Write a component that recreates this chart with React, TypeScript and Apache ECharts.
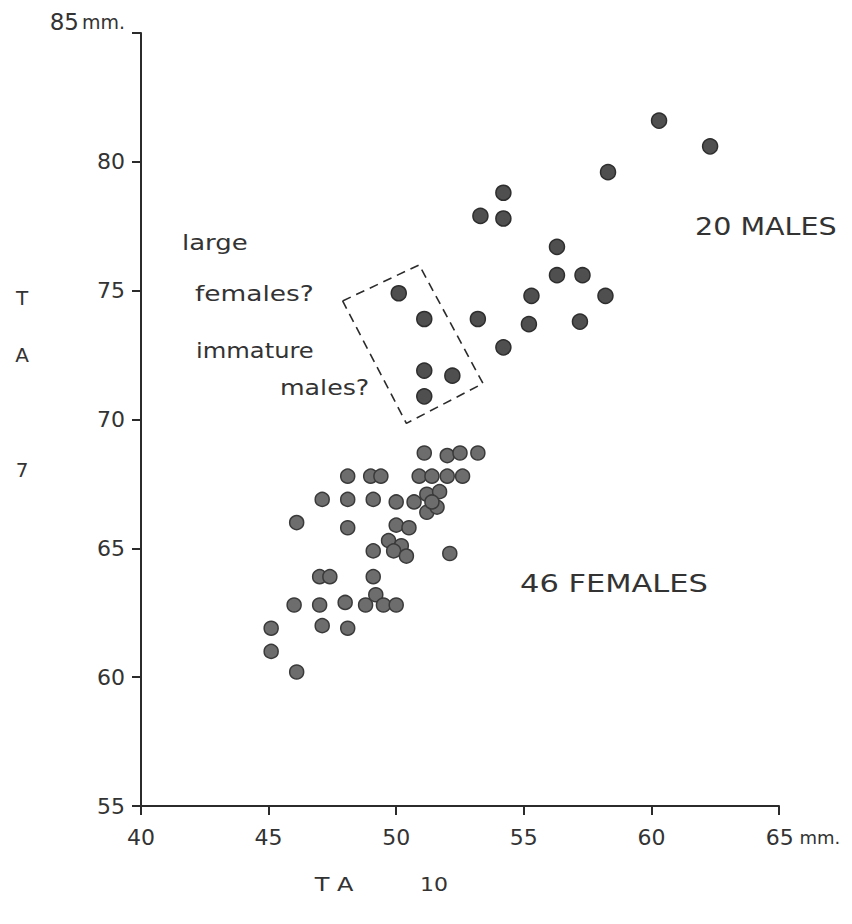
import React, { useEffect, useRef } from "react";
import * as echarts from "echarts";

// X ticks (mm) and Y ticks (mm)
const xTicks = [40, 45, 50, 55, 60, 65];
const yTicks = [55, 60, 65, 70, 75, 80, 85];

// 20 males (upper cluster, incl. the boxed "large females? / immature males?" points)
const maleX = [60.3, 62.3, 58.3, 54.2, 53.3, 54.2, 56.3, 56.3, 57.3, 58.2, 55.3, 57.2, 55.2, 53.2, 54.2, 50.1, 51.1, 51.1, 52.2, 51.1];
const maleY = [81.6, 80.6, 79.6, 78.8, 77.9, 77.8, 76.7, 75.6, 75.6, 74.8, 74.8, 73.8, 73.7, 73.9, 72.8, 74.9, 73.9, 71.9, 71.7, 70.9];

// 46 females
const femaleX = [
  51.1, 52.0, 52.5, 53.2,
  48.1, 49.0, 49.4, 50.9, 51.4, 52.0, 52.6,
  47.1, 48.1, 49.1, 50.0, 50.7, 51.2, 51.7, 51.2, 51.6, 51.4,
  46.1, 48.1, 50.0, 50.5,
  49.1, 49.7, 50.2, 49.9, 50.4, 52.1,
  47.0, 47.4, 49.1,
  46.0, 47.0, 48.0, 48.8, 49.2, 49.5, 50.0,
  45.1, 47.1, 48.1,
  45.1,
  46.1,
];
const femaleY = [
  68.7, 68.6, 68.7, 68.7,
  67.8, 67.8, 67.8, 67.8, 67.8, 67.8, 67.8,
  66.9, 66.9, 66.9, 66.8, 66.8, 67.1, 67.2, 66.4, 66.6, 66.8,
  66.0, 65.8, 65.9, 65.8,
  64.9, 65.3, 65.1, 64.9, 64.7, 64.8,
  63.9, 63.9, 63.9,
  62.8, 62.8, 62.9, 62.8, 63.2, 62.8, 62.8,
  61.9, 62.0, 61.9,
  61.0,
  60.2,
];

// dashed box around the doubtful specimens (corner points in mm)
const boxX = [47.9, 50.9, 53.4, 50.4, 47.9];
const boxY = [74.6, 76.0, 71.4, 69.85, 74.6];

const FONT = "DejaVu Sans";
const INK = "#2b2b2b";
const TEXT = "#333";

export default function App() {
  const ref = useRef<HTMLDivElement>(null);
  useEffect(() => {
    if (!ref.current) return;
    const chart = echarts.init(ref.current, null, { renderer: "svg" });
    const males = maleX.map((x, i) => [x, maleY[i]]);
    const females = femaleX.map((x, i) => [x, femaleY[i]]);
    const box = boxX.map((x, i) => [x, boxY[i]]);
    const txt = (text: string, x: number, y: number, size = 19, align = "left", sx = 1) => ({
      type: "text",
      x,
      y,
      scaleX: sx,
      style: { text, fill: TEXT, font: `${size}px "${FONT}"`, textAlign: align, textVerticalAlign: "middle" },
    });
    chart.setOption({
      animation: false,
      backgroundColor: "#fff",
      grid: { left: 141, right: 73, top: 33, bottom: 118 },
      xAxis: {
        type: "value",
        min: xTicks[0],
        max: xTicks[xTicks.length - 1],
        interval: 5,
        splitLine: { show: false },
        axisLine: { lineStyle: { color: INK, width: 2 } },
        axisTick: { show: true, length: 9, lineStyle: { color: INK, width: 2 } },
        axisLabel: {
          margin: 20,
          color: TEXT,
          fontFamily: FONT,
          fontSize: 22,
          formatter: (v: number) => (v === 65 ? "{pad|}{n|65}{u| mm.}" : String(v)),
          rich: {
            pad: { width: 48 },
            n: { fontFamily: FONT, fontSize: 22, color: TEXT },
            u: { fontFamily: FONT, fontSize: 18, color: TEXT },
          },
        },
      },
      yAxis: {
        type: "value",
        min: yTicks[0],
        max: yTicks[yTicks.length - 1],
        interval: 5,
        splitLine: { show: false },
        axisLine: { lineStyle: { color: INK, width: 2 } },
        axisTick: { show: true, length: 9, lineStyle: { color: INK, width: 2 } },
        axisLabel: {
          margin: 16,
          color: TEXT,
          fontFamily: FONT,
          fontSize: 22,
          formatter: (v: number) => (v === 85 ? "{n|85}{u|mm.}" : String(v)),
          rich: {
            n: { fontFamily: FONT, fontSize: 23, color: TEXT, padding: [0, 3, 22, 0] },
            u: { fontFamily: FONT, fontSize: 19, color: TEXT, padding: [0, 0, 22, 0] },
          },
        },
      },
      series: [
        {
          name: "females",
          type: "scatter",
          data: females,
          symbolSize: 14,
          itemStyle: { color: "#6d6d6d", borderColor: "#3a3a3a", borderWidth: 1.5, opacity: 1 },
        },
        {
          name: "males",
          type: "scatter",
          data: males,
          symbolSize: 15,
          itemStyle: { color: "#4f4f4f", borderColor: "#2e2e2e", borderWidth: 1.5, opacity: 1 },
        },
        {
          name: "box",
          type: "line",
          data: box,
          symbol: "none",
          silent: true,
          lineStyle: { color: INK, width: 1.6, type: [9, 6] },
        },
      ],
      graphic: [
        txt("T", 22, 298, 20, "center"),
        txt("A", 22, 355, 20, "center"),
        txt("7", 22, 470, 20, "center"),
        txt("T A", 334, 884, 20, "center", 1.2),
        txt("10", 434, 884, 20, "center", 1.1),
        txt("large", 182, 243, 22, "left", 1.18),
        txt("females?", 195, 293, 22, "left", 1.2),
        txt("immature", 196, 350, 22, "left", 1.1),
        txt("males?", 280, 388, 22, "left", 1.15),
        txt("20 MALES", 695, 227, 24, "left", 1.19),
        txt("46 FEMALES", 520, 584, 24, "left", 1.27),
      ],
    });
    return () => chart.dispose();
  }, []);
  return <div ref={ref} style={{ position: "fixed", left: 0, top: 0, width: 852, height: 924, background: "#fff" }} />;
}
